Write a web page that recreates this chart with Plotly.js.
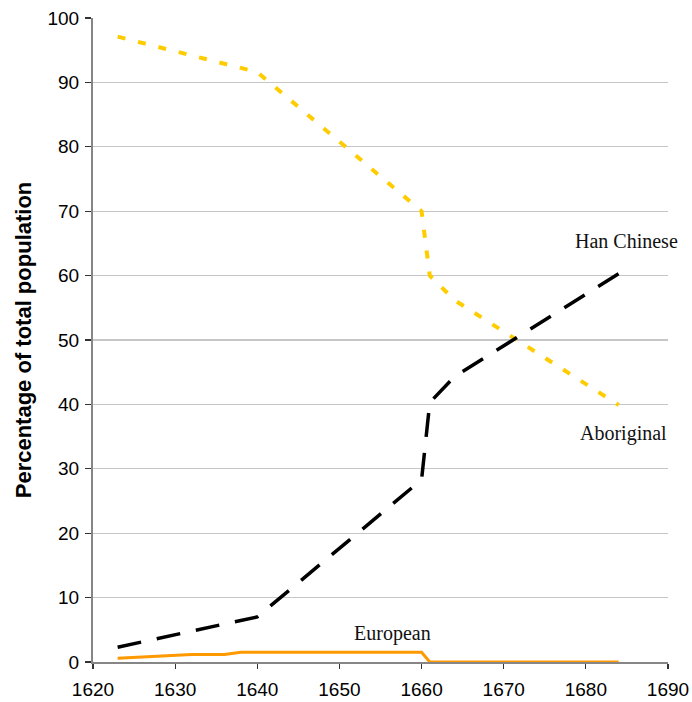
<!DOCTYPE html>
<html>
<head>
<meta charset="utf-8">
<script src="https://cdn.plot.ly/plotly-3.0.1.min.js"></script>
<style>
  html, body { margin: 0; padding: 0; background: #ffffff; }
  #chart { width: 692px; height: 702px; }
</style>
</head>
<body>
<div id="chart"></div>
<script>
// Data (percentage of total population)
const hanYears        = [1623, 1640, 1660, 1661, 1664, 1684];
const hanValues       = [2.3, 7.0, 28.3, 40.3, 44.3, 60.3];

const aboriginalYears  = [1623, 1640, 1660, 1661, 1664, 1684];
const aboriginalValues = [97.1, 91.6, 70.0, 60.0, 56.2, 39.9];

const europeanYears   = [1623, 1632, 1636, 1638, 1660, 1661, 1684];
const europeanValues  = [0.6, 1.15, 1.15, 1.5, 1.5, 0.0, 0.0];

const seriesLabels = ["Han Chinese", "Aboriginal", "European"];
const xTickValues = [1620, 1630, 1640, 1650, 1660, 1670, 1680, 1690];
const yTickValues = [0, 10, 20, 30, 40, 50, 60, 70, 80, 90, 100];

const traces = [
  {
    x: aboriginalYears, y: aboriginalValues, name: seriesLabels[1],
    type: 'scatter', mode: 'lines',
    line: { color: '#FFCC00', width: 4, dash: '8px,13px' }
  },
  {
    x: hanYears, y: hanValues, name: seriesLabels[0],
    type: 'scatter', mode: 'lines',
    line: { color: '#000000', width: 3.5, dash: '24px,16px' }
  },
  {
    x: europeanYears, y: europeanValues, name: seriesLabels[2],
    type: 'scatter', mode: 'lines',
    line: { color: '#FF9900', width: 3 }
  }
];

const labelFont = { family: '"Liberation Serif", "Times New Roman", serif', size: 20, color: '#111111' };

const layout = {
  width: 692, height: 702,
  margin: { l: 93, r: 24, t: 18, b: 40, pad: 0 },
  paper_bgcolor: '#ffffff',
  plot_bgcolor: '#ffffff',
  showlegend: false,
  font: { family: '"Liberation Sans", Arial, sans-serif', size: 19, color: '#000000' },
  xaxis: {
    range: [1620, 1690],
    tickvals: xTickValues,
    ticktext: xTickValues.map(String),
    ticks: 'outside', ticklen: 5, tickwidth: 1.2, tickcolor: '#333333',
    ticklabelstandoff: 5,
    showline: true, linecolor: '#868686', linewidth: 1.5,
    showgrid: false, zeroline: false,
    tickfont: { size: 19, color: '#000000' },
    fixedrange: true
  },
  yaxis: {
    range: [0, 100],
    tickvals: yTickValues,
    ticktext: yTickValues.map(String),
    ticks: 'outside', ticklen: 6, tickwidth: 1.2, tickcolor: '#333333',
    ticklabelstandoff: 2,
    showline: true, linecolor: '#868686', linewidth: 2,
    showgrid: true, gridcolor: '#c6c6c6', gridwidth: 1.2,
    zeroline: false,
    tickfont: { size: 19, color: '#000000' },
    title: { text: '<b>Percentage of total population</b>', font: { size: 22, color: '#000000' }, standoff: 10 },
    fixedrange: true
  },
  annotations: [
    { x: 1685.0, y: 65.3, xref: 'x', yref: 'y', text: seriesLabels[0], showarrow: false, font: labelFont },
    { x: 1684.6, y: 35.5, xref: 'x', yref: 'y', text: seriesLabels[1], showarrow: false, font: labelFont },
    { x: 1656.5, y: 4.4,  xref: 'x', yref: 'y', text: seriesLabels[2], showarrow: false, font: labelFont }
  ]
};

Plotly.newPlot('chart', traces, layout, { displayModeBar: false, staticPlot: true });
</script>
</body>
</html>
